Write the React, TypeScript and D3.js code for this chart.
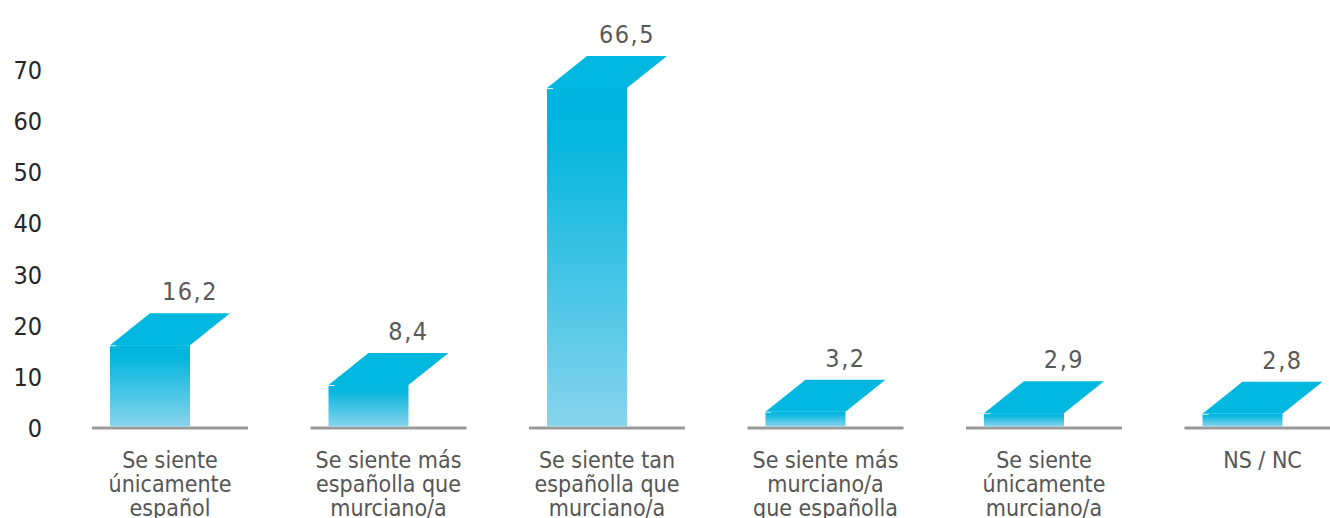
import React, { useEffect, useRef } from "react";
import * as d3 from "d3";

// identidad: categorías, porcentajes y ticks del eje
const categorias = ["c1", "c2", "c3", "c4", "c5", "c6"];
const etiquetas = [
  ["Se siente", "únicamente", "español"],
  ["Se siente más", "españolla que", "murciano/a"],
  ["Se siente tan", "españolla que", "murciano/a"],
  ["Se siente más", "murciano/a", "que españolla"],
  ["Se siente", "únicamente", "murciano/a"],
  ["NS / NC"],
];
const valores = [16.2, 8.4, 66.5, 3.2, 2.9, 2.8];
const ticks = [0, 10, 20, 30, 40, 50, 60, 70];

const W = 1330;
const H = 518;
const FONT = "'DejaVu Sans Condensed', 'DejaVu Sans', sans-serif";

export default function App() {
  const ref = useRef<SVGSVGElement | null>(null);

  useEffect(() => {
    const svg = d3.select(ref.current);
    svg.selectAll("*").remove();

    const x = d3
      .scaleBand<string>()
      .domain(categorias)
      .range([60.75, 1371.75])
      .paddingInner(0.286)
      .paddingOuter(0.143);

    const y = d3.scaleLinear().domain([0, 70]).range([428, 70]);

    const frente = 80; // ancho de la cara frontal
    const dx = 40; // desplazamiento de la cara superior
    const dy = 32;
    const offset = (x.bandwidth() - frente - dx) / 2;

    const defs = svg.append("defs");
    const grad = defs
      .append("linearGradient")
      .attr("id", "grad")
      .attr("x1", 0)
      .attr("y1", 0)
      .attr("x2", 0)
      .attr("y2", 1);
    grad.append("stop").attr("offset", "0%").attr("stop-color", "#00b5de");
    grad.append("stop").attr("offset", "15%").attr("stop-color", "#05b6de");
    grad.append("stop").attr("offset", "100%").attr("stop-color", "#88d4ec");

    // eje y: solo etiquetas
    svg
      .append("g")
      .selectAll("text")
      .data(ticks)
      .enter()
      .append("text")
      .attr("x", 42)
      .attr("y", (d) => y(d))
      .attr("dy", "0.36em")
      .attr("text-anchor", "end")
      .attr("font-family", FONT)
      .attr("font-size", 25)
      .attr("fill", "#262626")
      .text((d) => d);

    const g = svg
      .selectAll("g.barra")
      .data(valores)
      .enter()
      .append("g")
      .attr("class", "barra");

    // línea base por categoría
    g.append("line")
      .attr("x1", (d, i) => x(categorias[i])!)
      .attr("x2", (d, i) => x(categorias[i])! + x.bandwidth())
      .attr("y1", y(0))
      .attr("y2", y(0))
      .attr("stroke", "#9a9a9a")
      .attr("stroke-width", 3);

    // cara frontal
    g.append("rect")
      .attr("x", (d, i) => x(categorias[i])! + offset)
      .attr("y", (d) => y(d))
      .attr("width", frente)
      .attr("height", (d) => y(0) - y(d) - 1.5)
      .attr("fill", "url(#grad)");

    // pequeño brillo en la esquina
    g.append("line")
      .attr("x1", (d, i) => x(categorias[i])! + offset)
      .attr("x2", (d, i) => x(categorias[i])! + offset + 6)
      .attr("y1", (d) => y(d) + 0.5)
      .attr("y2", (d) => y(d) + 0.5)
      .attr("stroke", "#ffffff")
      .attr("stroke-width", 1);

    // cara superior
    g.append("path")
      .attr("d", (d, i) => {
        const x0 = x(categorias[i])! + offset;
        const y0 = y(d);
        return `M${x0},${y0}L${x0 + dx},${y0 - dy}L${x0 + frente + dx},${y0 - dy}L${x0 + frente},${y0}Z`;
      })
      .attr("fill", "#00b8df");

    // valores
    g.append("text")
      .attr("x", (d, i) => x(categorias[i])! + offset + frente)
      .attr("y", (d) => y(d) - dy - 13)
      .attr("text-anchor", "middle")
      .attr("font-family", FONT)
      .attr("font-size", 25)
      .attr("letter-spacing", 1.5)
      .attr("fill", "#595959")
      .text((d) => d3.format(".1f")(d).replace(".", ","));

    // etiquetas de categoría
    const lab = svg
      .selectAll("text.cat")
      .data(etiquetas)
      .enter()
      .append("text")
      .attr("class", "cat")
      .attr("text-anchor", "middle")
      .attr("font-family", FONT)
      .attr("font-size", 23)
      .attr("fill", "#555555");

    lab
      .selectAll("tspan")
      .data((d, i) => d.map((t) => ({ t, i })))
      .enter()
      .append("tspan")
      .attr("x", (d) => x(categorias[d.i])! + x.bandwidth() / 2)
      .attr("y", (d, j) => 468 + j * 24)
      .text((d) => d.t);
  }, []);

  return (
    <svg
      ref={ref}
      width={W}
      height={H}
      style={{ position: "absolute", left: 0, top: 0, background: "#fff" }}
    />
  );
}
